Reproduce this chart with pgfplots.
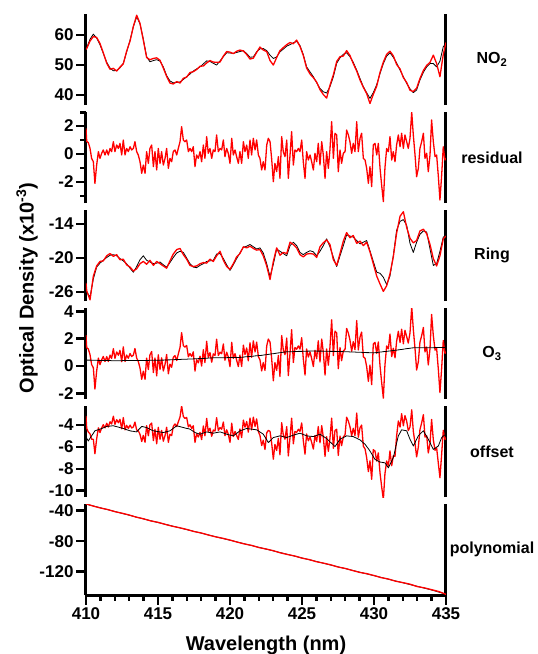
\documentclass[border=0pt]{standalone}
\usepackage{fontspec}
\setmainfont{Liberation Sans}
\usepackage{pgfplots}
\usepackage{pgfplotstable}
\pgfplotsset{compat=1.18}

\pgfplotstableread{
wl res o3 off
410.00 1.83 0.43 -4.98
410.05 0.90 0.43 -5.20
410.16 0.82 0.43 -5.45
410.28 0.40 0.43 -5.20
410.39 -0.31 0.42 -4.98
410.51 -0.55 0.42 -4.75
410.62 -2.10 0.42 -4.52
410.74 -0.79 0.42 -4.47
410.86 0.17 0.41 -4.42
410.97 -0.31 0.41 -4.37
411.09 0.05 0.41 -4.31
411.20 0.29 0.41 -4.25
411.32 -0.07 0.40 -4.18
411.44 0.29 0.40 -4.12
411.55 -0.07 0.40 -4.10
411.67 0.40 0.40 -4.09
411.78 0.17 0.39 -4.07
411.90 0.88 0.39 -4.06
412.01 0.17 0.39 -4.10
412.13 0.64 0.39 -4.14
412.25 0.40 0.39 -4.18
412.36 0.76 0.39 -4.23
412.48 -0.07 0.39 -4.27
412.59 1.00 0.40 -4.31
412.71 -0.07 0.40 -4.36
412.82 0.40 0.40 -4.42
412.94 0.17 0.40 -4.47
413.06 0.52 0.40 -4.52
413.17 0.29 0.40 -4.55
413.29 0.40 0.40 -4.57
413.40 0.88 0.40 -4.60
413.52 0.17 0.41 -4.62
413.63 -0.07 0.41 -4.45
413.75 -0.55 0.41 -4.29
413.87 -1.38 0.41 -4.12
413.98 -0.79 0.41 -4.15
414.10 -1.38 0.41 -4.19
414.21 0.17 0.41 -4.22
414.33 -0.67 0.41 -4.30
414.44 0.40 0.42 -4.37
414.56 0.64 0.42 -4.45
414.68 -0.90 0.42 -4.52
414.79 0.17 0.42 -4.55
414.91 -1.14 0.42 -4.57
415.02 0.40 0.42 -4.60
415.14 -0.67 0.42 -4.63
415.25 0.17 0.43 -4.65
415.37 -0.79 0.43 -4.68
415.49 -0.31 0.44 -4.64
415.60 0.40 0.44 -4.60
415.72 -1.02 0.45 -4.56
415.83 -0.31 0.45 -4.52
415.95 -0.55 0.46 -4.41
416.06 0.17 0.46 -4.29
416.18 0.29 0.47 -4.18
416.30 -0.07 0.47 -4.06
416.41 0.40 0.48 -4.10
416.53 0.88 0.48 -4.14
416.64 1.95 0.49 -4.18
416.76 1.00 0.49 -4.22
416.87 0.88 0.50 -4.26
416.99 1.00 0.50 -4.30
417.11 0.17 0.51 -4.33
417.22 0.40 0.51 -4.37
417.34 0.17 0.52 -4.47
417.45 0.52 0.52 -4.58
417.57 -0.90 0.53 -4.68
417.68 -0.07 0.53 -4.73
417.80 -0.31 0.54 -4.78
417.92 0.17 0.55 -4.83
418.03 -0.55 0.55 -4.78
418.15 0.64 0.56 -4.72
418.26 -0.31 0.56 -4.67
418.38 1.24 0.57 -4.62
418.49 0.05 0.58 -4.65
418.61 0.40 0.58 -4.68
418.73 -0.31 0.59 -4.71
418.84 0.29 0.60 -4.74
418.96 0.17 0.60 -4.71
419.07 1.36 0.60 -4.68
419.19 0.17 0.60 -4.65
419.31 0.40 0.61 -4.62
419.42 0.29 0.61 -4.67
419.54 1.00 0.61 -4.72
419.65 -0.19 0.61 -4.78
419.77 0.40 0.61 -4.83
419.88 0.05 0.62 -4.87
420.00 -0.67 0.62 -4.91
420.12 1.12 0.62 -4.94
420.23 -0.07 0.62 -4.98
420.35 0.29 0.62 -4.87
420.46 -0.19 0.62 -4.75
420.58 -0.67 0.63 -4.64
420.69 0.17 0.63 -4.52
420.81 -0.67 0.64 -4.47
420.93 0.88 0.65 -4.42
421.04 0.17 0.67 -4.36
421.16 0.64 0.68 -4.31
421.27 -0.31 0.69 -4.33
421.39 1.00 0.70 -4.35
421.50 -0.07 0.71 -4.37
421.62 1.12 0.72 -4.39
421.74 0.29 0.74 -4.41
421.85 1.00 0.75 -4.43
421.97 -0.07 0.76 -4.53
422.08 -0.31 0.77 -4.63
422.20 -1.14 0.78 -4.73
422.31 -0.55 0.80 -4.83
422.43 -1.14 0.82 -5.09
422.55 0.64 0.83 -5.34
422.66 1.12 0.85 -5.60
422.78 0.88 0.87 -5.45
422.89 -0.31 0.89 -5.29
423.01 -1.98 0.90 -5.14
423.12 -0.67 0.92 -5.10
423.24 -1.26 0.94 -5.06
423.36 -0.19 0.96 -5.02
423.47 -1.74 0.97 -4.98
423.59 1.24 0.99 -5.02
423.70 0.17 1.01 -5.06
423.82 -0.19 1.02 -5.10
423.94 1.00 1.04 -5.14
424.05 -1.74 1.04 -5.08
424.17 -0.07 1.05 -5.03
424.28 1.60 1.05 -4.97
424.40 -0.79 1.05 -4.92
424.51 0.29 1.06 -4.87
424.63 0.17 1.06 -4.83
424.75 0.40 1.07 -4.78
424.86 0.17 1.07 -4.74
424.98 1.00 1.07 -4.80
425.09 -0.55 1.08 -4.86
425.21 -1.74 1.08 -4.92
425.32 0.17 1.08 -4.98
425.44 -0.43 1.09 -5.00
425.56 -0.07 1.09 -5.02
425.67 -0.55 1.10 -5.03
425.79 -1.14 1.10 -5.05
425.90 0.05 1.10 -5.00
426.02 -0.55 1.09 -4.94
426.13 0.76 1.09 -4.89
426.25 -0.79 1.09 -4.83
426.37 0.88 1.09 -4.93
426.48 -0.07 1.08 -5.03
426.60 -1.74 1.08 -5.13
426.71 0.17 1.08 -5.23
426.83 -1.02 1.08 -5.38
426.94 0.29 1.07 -5.53
427.06 2.31 1.07 -5.67
427.18 -0.31 1.07 -5.82
427.29 1.48 1.07 -5.97
427.41 1.36 1.06 -5.74
427.52 -1.26 1.06 -5.52
427.64 0.29 1.06 -5.29
427.75 -0.67 1.06 -5.21
427.87 0.05 1.05 -5.14
427.99 0.17 1.05 -5.06
428.10 1.71 1.04 -4.98
428.22 1.36 1.04 -5.00
428.33 0.88 1.03 -5.02
428.45 0.05 1.03 -5.03
428.56 0.76 1.02 -5.05
428.68 0.17 1.02 -5.13
428.80 2.31 1.01 -5.20
428.91 0.17 1.01 -5.28
429.03 1.12 1.00 -5.35
429.14 1.48 1.00 -5.48
429.26 -0.31 0.99 -5.62
429.38 -0.43 0.99 -5.75
429.49 -1.02 0.98 -5.96
429.61 -2.10 0.98 -6.16
429.72 -0.90 0.97 -6.37
429.84 -2.33 0.97 -6.63
429.95 0.64 0.96 -6.88
430.07 0.76 0.97 -7.14
430.19 -0.07 0.99 -7.22
430.30 0.76 1.00 -7.30
430.42 -1.02 1.02 -7.38
430.53 -2.21 1.03 -7.40
430.65 -3.40 1.05 -7.43
430.76 -1.00 1.06 -7.45
430.88 0.40 1.07 -7.68
431.00 0.17 1.09 -7.91
431.11 1.24 1.10 -7.60
431.23 -0.43 1.12 -7.29
431.34 0.17 1.13 -6.98
431.46 -0.55 1.15 -6.31
431.57 0.64 1.16 -5.65
431.69 1.36 1.18 -4.98
431.81 0.52 1.20 -4.70
431.92 1.48 1.21 -4.43
432.04 0.40 1.23 -4.46
432.15 1.36 1.25 -4.49
432.27 0.88 1.27 -4.52
432.38 0.40 1.28 -4.90
432.50 1.12 1.30 -5.29
432.62 3.00 1.32 -5.60
432.73 1.36 1.33 -5.91
432.85 -0.07 1.33 -5.60
432.96 -1.62 1.33 -5.29
433.08 -1.02 1.33 -4.98
433.19 0.40 1.34 -4.83
433.31 0.88 1.34 -4.67
433.43 1.48 1.34 -4.52
433.54 -0.31 1.34 -4.78
433.66 0.05 1.34 -5.03
433.77 -1.26 1.34 -5.29
433.89 -0.07 1.34 -5.60
434.00 2.43 1.34 -5.91
434.12 0.88 1.34 -6.22
434.24 -0.19 1.35 -6.12
434.35 -0.07 1.35 -6.01
434.47 -1.62 1.35 -5.91
434.58 -3.29 1.35 -5.53
434.70 -1.50 1.35 -5.14
434.81 0.52 1.35 -5.00
434.93 -0.43 1.35 -4.90
435.00 -0.31 1.35 -4.83
}\resdata

\pgfplotstableread{
wl no2 no2m ring ringm
410.00 55.0 55.2 -25.5 -24.4
410.05 55.8 55.5 -26.0 -25.8
410.28 58.6 58.0 -26.9 -27.4
410.51 60.3 59.5 -23.7 -23.2
410.74 59.0 59.2 -21.6 -21.4
410.97 56.8 57.2 -20.9 -20.6
411.20 53.9 54.1 -20.4 -20.5
411.44 50.9 50.6 -19.9 -19.6
411.67 49.0 48.6 -19.5 -19.2
411.90 48.1 48.9 -19.4 -19.7
412.13 48.2 48.0 -19.6 -19.4
412.36 49.1 49.3 -20.1 -20.3
412.59 50.6 50.4 -20.5 -20.2
412.82 54.3 54.6 -21.0 -21.2
413.06 58.3 58.0 -21.8 -21.6
413.29 62.8 62.9 -22.5 -22.3
413.52 66.1 66.6 -21.5 -21.9
413.75 63.7 63.9 -20.3 -21.0
413.98 58.7 58.3 -19.6 -20.6
414.21 52.8 52.5 -20.4 -21.1
414.44 51.1 51.8 -20.7 -20.4
414.68 51.5 52.2 -21.0 -21.3
414.91 51.8 52.4 -20.9 -20.6
415.14 51.3 51.6 -20.7 -21.0
415.37 49.4 49.0 -21.2 -21.4
415.60 46.5 46.2 -21.6 -21.8
415.83 44.7 44.0 -20.8 -20.5
416.06 44.1 43.7 -19.9 -19.3
416.30 44.2 44.5 -19.1 -18.5
416.53 44.4 44.0 -18.8 -18.3
416.76 45.2 45.6 -19.0 -19.4
416.99 46.1 46.0 -20.0 -20.2
417.22 47.0 47.5 -21.0 -21.3
417.45 48.0 47.8 -21.6 -21.5
417.68 48.7 48.5 -21.7 -21.4
417.92 49.4 49.6 -21.3 -21.0
418.15 50.4 49.7 -21.0 -20.8
418.38 51.4 50.7 -20.6 -20.9
418.61 51.2 51.5 -20.5 -20.2
418.84 50.6 51.0 -20.4 -20.6
419.07 50.0 50.9 -19.3 -19.6
419.31 51.4 51.0 -19.2 -18.8
419.54 52.8 53.0 -20.1 -20.4
419.77 54.1 54.5 -21.2 -21.5
420.00 54.0 54.3 -22.2 -22.0
420.23 53.9 53.8 -21.2 -21.0
420.46 54.2 54.6 -20.1 -19.8
420.69 54.5 55.0 -19.1 -19.2
420.93 54.8 54.7 -18.1 -18.0
421.16 53.8 53.5 -17.9 -18.2
421.39 52.6 52.0 -17.6 -17.9
421.62 52.7 52.3 -18.0 -18.3
421.85 54.4 54.2 -18.4 -18.6
422.08 55.4 56.0 -18.2 -18.5
422.31 55.5 55.0 -19.1 -19.6
422.55 54.8 54.5 -21.0 -21.4
422.78 53.3 51.5 -23.3 -23.8
423.01 52.2 50.0 -21.1 -20.6
423.24 52.7 52.5 -18.4 -18.2
423.47 54.4 54.8 -18.8 -19.5
423.70 55.3 55.8 -19.2 -19.0
423.94 56.3 56.8 -19.6 -19.2
424.17 56.8 57.5 -17.8 -17.2
424.40 57.4 57.1 -17.2 -17.6
424.63 57.9 58.3 -17.8 -18.2
424.86 56.5 56.2 -19.0 -19.4
425.09 53.5 53.2 -19.4 -19.8
425.32 49.4 49.0 -19.0 -19.3
425.56 47.7 47.0 -18.7 -19.2
425.79 46.1 45.8 -18.9 -19.3
426.02 44.1 44.3 -19.6 -19.9
426.25 42.2 41.8 -18.8 -18.0
426.48 41.1 40.2 -17.8 -17.3
426.71 40.7 39.0 -16.6 -16.8
426.94 42.8 43.2 -18.0 -17.6
427.18 46.1 46.8 -19.9 -20.3
427.41 50.6 51.2 -21.5 -21.3
427.64 52.4 52.8 -19.6 -19.2
427.87 53.6 53.0 -17.8 -17.0
428.10 54.1 54.8 -15.9 -15.5
428.33 52.8 53.2 -16.1 -16.4
428.56 50.9 50.5 -16.3 -16.0
428.80 48.3 48.0 -16.9 -17.4
429.03 45.5 45.0 -17.5 -17.0
429.26 42.8 42.6 -17.2 -17.8
429.49 40.8 40.5 -16.9 -17.2
429.72 38.9 37.2 -18.7 -18.9
429.95 40.8 40.2 -20.6 -21.0
430.19 43.5 43.0 -22.5 -23.2
430.42 47.2 47.6 -22.7 -24.6
430.65 50.5 51.0 -23.4 -25.9
430.88 53.0 53.6 -24.7 -24.9
431.11 54.1 54.6 -23.2 -22.8
431.34 52.6 53.1 -19.6 -19.8
431.57 50.7 50.2 -15.1 -15.6
431.81 48.3 48.7 -13.5 -12.6
432.04 46.1 45.8 -13.2 -11.8
432.27 43.9 44.2 -14.2 -14.6
432.50 42.1 41.6 -17.4 -16.5
432.73 40.8 41.2 -19.0 -17.3
432.96 41.7 42.3 -17.2 -16.9
433.19 45.0 45.5 -15.8 -15.2
433.43 47.6 48.2 -15.2 -14.9
433.66 49.4 49.9 -15.4 -15.7
433.89 50.5 50.9 -18.4 -17.6
434.12 50.5 53.3 -21.3 -20.1
434.35 49.4 50.5 -21.0 -21.4
434.58 51.3 46.1 -18.8 -19.6
434.81 56.1 53.5 -16.3 -16.6
435.00 57.2 57.5 -16.0 -16.1
}\nodata

\pgfplotstableread{
wl poly
410 -31.3
411 -36.2
412 -41.0
413 -45.9
414 -50.8
415 -55.5
416 -60.1
417 -64.8
418 -69.4
419 -74.1
420 -78.7
421 -83.4
422 -88.0
423 -92.7
424 -97.3
425 -102.0
426 -106.6
427 -111.3
428 -115.9
429 -120.6
430 -125.2
431 -129.9
432 -134.5
433 -139.2
434 -144.0
435 -149.5
}\polyfit

\pgfplotstableread{
wl polym
410.0 -31.0
410.5 -33.9
411.0 -36.4
411.5 -38.4
412.0 -41.2
412.5 -43.3
413.0 -45.6
413.5 -48.5
414.0 -50.6
414.5 -53.4
415.0 -55.2
415.5 -57.9
416.0 -60.4
416.5 -62.3
417.0 -64.6
417.5 -67.3
418.0 -69.2
418.5 -71.9
419.0 -74.3
419.5 -76.2
420.0 -78.5
420.5 -81.2
421.0 -83.6
421.5 -85.5
422.0 -88.3
422.5 -90.2
423.0 -92.4
423.5 -95.3
424.0 -97.5
424.5 -99.4
425.0 -102.2
425.5 -104.1
426.0 -106.9
426.5 -108.8
427.0 -111.0
427.5 -113.9
428.0 -115.7
428.5 -118.4
429.0 -120.9
429.5 -122.6
430.0 -125.0
430.5 -127.8
431.0 -129.6
431.5 -132.5
432.0 -134.3
432.5 -136.4
433.0 -139.5
433.5 -141.2
434.0 -143.6
434.5 -146.0
435.0 -149.8
}\polymeas

\pgfplotsset{
  panelbase/.style={
    scale only axis, width=360pt, height=91pt,
    xmin=410, xmax=435,
    tick align=outside,
    axis line style={line width=3pt, black},
    major tick length=9pt, minor tick length=5pt,
    tick style={draw=black, line width=2.5pt},
    tick label style={font=\fontsize{17}{17}\selectfont\bfseries},
    /pgf/number format/assume math mode=true,
    anchor=north west,
    clip mode=individual,
  },
  panel/.style={
    panelbase,
    separate axis lines,
    x axis line style={draw=none},
    xtick=\empty,
    ytick pos=left,
  },
  redline/.style={color=red, line width=1.3pt, line join=round},
  blackline/.style={color=black, line width=0.8pt, line join=round},
}
\tikzset{
  rlabel/.style={font=\fontsize{16}{16}\selectfont\bfseries, anchor=center},
  tk/.style={line width=2.5pt, black},
}

\begin{document}
\begin{tikzpicture}
\useasboundingbox (-86pt,14pt) rectangle (452pt,-640pt);

% NO2
\begin{axis}[panel, name=p1, at={(0pt,0pt)}, ymin=36.7, ymax=67, ytick={40,50,60}]
\addplot[blackline] table[x=wl,y=no2]{\nodata};
\addplot[redline] table[x=wl,y=no2m]{\nodata};
\draw[tk] (axis cs:410,40) -- ++(-10pt,0pt);
\draw[tk] (axis cs:410,50) -- ++(-10pt,0pt);
\draw[tk] (axis cs:410,60) -- ++(-10pt,0pt);
\end{axis}

% residual
\begin{axis}[panel, name=p2, at={(0pt,-98pt)}, ymin=-3.5, ymax=3.0, ytick={-2,0,2}, minor ytick={-3,-1,1,3}]
\addplot[redline] table[x=wl,y=res]{\resdata};
\draw[tk] (axis cs:410,-2) -- ++(-10pt,0pt);
\draw[tk] (axis cs:410,0) -- ++(-10pt,0pt);
\draw[tk] (axis cs:410,2) -- ++(-10pt,0pt);
\draw[tk] (axis cs:410,-3) -- ++(-6pt,0pt);
\draw[tk] (axis cs:410,-1) -- ++(-6pt,0pt);
\draw[tk] (axis cs:410,1) -- ++(-6pt,0pt);
\draw[tk] (axis cs:410,2.95) -- ++(-6pt,0pt);
\end{axis}

% Ring
\begin{axis}[panel, name=p3, at={(0pt,-196pt)}, ymin=-27.6, ymax=-11.5, ytick={-26,-20,-14},
  ylabel={Optical Density (x10\textsuperscript{-3})},
  ylabel style={at={(axis description cs:-0.164,0.144)}, anchor=center, font=\fontsize{20}{20}\selectfont\bfseries}]
\addplot[blackline] table[x=wl,y=ring]{\nodata};
\addplot[redline] table[x=wl,y=ringm]{\nodata};
\draw[tk] (axis cs:410,-26) -- ++(-10pt,0pt);
\draw[tk] (axis cs:410,-20) -- ++(-10pt,0pt);
\draw[tk] (axis cs:410,-14) -- ++(-10pt,0pt);
\end{axis}

% O3
\begin{axis}[panel, name=p4, at={(0pt,-294pt)}, ymin=-2.41, ymax=4.24, ytick={-2,0,2,4}]
\addplot[redline] table[x=wl,y expr=\thisrow{res}+\thisrow{o3}]{\resdata};
\addplot[blackline] table[x=wl,y=o3]{\resdata};
\draw[tk] (axis cs:410,-2) -- ++(-10pt,0pt);
\draw[tk] (axis cs:410,0) -- ++(-10pt,0pt);
\draw[tk] (axis cs:410,2) -- ++(-10pt,0pt);
\draw[tk] (axis cs:410,4) -- ++(-10pt,0pt);
\end{axis}

% offset
\begin{axis}[panel, name=p5, at={(0pt,-392pt)}, ymin=-10.58, ymax=-2.25, ytick={-10,-8,-6,-4}]
\addplot[redline] table[x=wl,y expr=\thisrow{res}+\thisrow{off}]{\resdata};
\addplot[blackline] table[x=wl,y=off]{\resdata};
\draw[tk] (axis cs:410,-10) -- ++(-10pt,0pt);
\draw[tk] (axis cs:410,-8) -- ++(-10pt,0pt);
\draw[tk] (axis cs:410,-6) -- ++(-10pt,0pt);
\draw[tk] (axis cs:410,-4) -- ++(-10pt,0pt);
\end{axis}

% polynomial
\begin{axis}[panelbase, name=p6, at={(0pt,-490pt)}, ymin=-150.6, ymax=-31.2, ytick={-120,-80,-40},
  axis x line*=bottom, axis y line*=box, ytick pos=left,
  xtick={410,415,420,425,430,435}, minor x tick num=4, xtick pos=bottom,
  xlabel={Wavelength (nm)},
  xlabel style={at={(axis description cs:0.5,0)}, anchor=center, yshift=-50pt, font=\fontsize{20}{20}\selectfont\bfseries}]
\addplot[blackline] table[x=wl,y=poly]{\polyfit};
\addplot[redline] table[x=wl,y=polym]{\polymeas};
\draw[tk] (axis cs:410,-120) -- ++(-10pt,0pt);
\draw[tk] (axis cs:410,-80) -- ++(-10pt,0pt);
\draw[tk] (axis cs:410,-40) -- ++(-10pt,0pt);
\draw[tk] (axis cs:410,-150.6) -- ++(0pt,-10pt);
\draw[tk] (axis cs:415,-150.6) -- ++(0pt,-10pt);
\draw[tk] (axis cs:420,-150.6) -- ++(0pt,-10pt);
\draw[tk] (axis cs:425,-150.6) -- ++(0pt,-10pt);
\draw[tk] (axis cs:430,-150.6) -- ++(0pt,-10pt);
\draw[tk] (axis cs:435,-150.6) -- ++(0pt,-10pt);
\draw[tk] (axis cs:411,-150.6) -- ++(0pt,-6pt);
\draw[tk] (axis cs:412,-150.6) -- ++(0pt,-6pt);
\draw[tk] (axis cs:413,-150.6) -- ++(0pt,-6pt);
\draw[tk] (axis cs:414,-150.6) -- ++(0pt,-6pt);
\draw[tk] (axis cs:416,-150.6) -- ++(0pt,-6pt);
\draw[tk] (axis cs:417,-150.6) -- ++(0pt,-6pt);
\draw[tk] (axis cs:418,-150.6) -- ++(0pt,-6pt);
\draw[tk] (axis cs:419,-150.6) -- ++(0pt,-6pt);
\draw[tk] (axis cs:421,-150.6) -- ++(0pt,-6pt);
\draw[tk] (axis cs:422,-150.6) -- ++(0pt,-6pt);
\draw[tk] (axis cs:423,-150.6) -- ++(0pt,-6pt);
\draw[tk] (axis cs:424,-150.6) -- ++(0pt,-6pt);
\draw[tk] (axis cs:426,-150.6) -- ++(0pt,-6pt);
\draw[tk] (axis cs:427,-150.6) -- ++(0pt,-6pt);
\draw[tk] (axis cs:428,-150.6) -- ++(0pt,-6pt);
\draw[tk] (axis cs:429,-150.6) -- ++(0pt,-6pt);
\draw[tk] (axis cs:431,-150.6) -- ++(0pt,-6pt);
\draw[tk] (axis cs:432,-150.6) -- ++(0pt,-6pt);
\draw[tk] (axis cs:433,-150.6) -- ++(0pt,-6pt);
\draw[tk] (axis cs:434,-150.6) -- ++(0pt,-6pt);
\end{axis}

\node[rlabel] at ([xshift=46pt]p1.east) {NO\textsubscript{2}};
\node[rlabel] at ([xshift=46pt]p2.east) {residual};
\node[rlabel] at ([xshift=46pt]p3.east) {Ring};
\node[rlabel] at ([xshift=46pt]p4.east) {O\textsubscript{3}};
\node[rlabel] at ([xshift=46pt]p5.east) {offset};
\node[rlabel] at ([xshift=46pt]p6.east) {polynomial};
\end{tikzpicture}
\end{document}
